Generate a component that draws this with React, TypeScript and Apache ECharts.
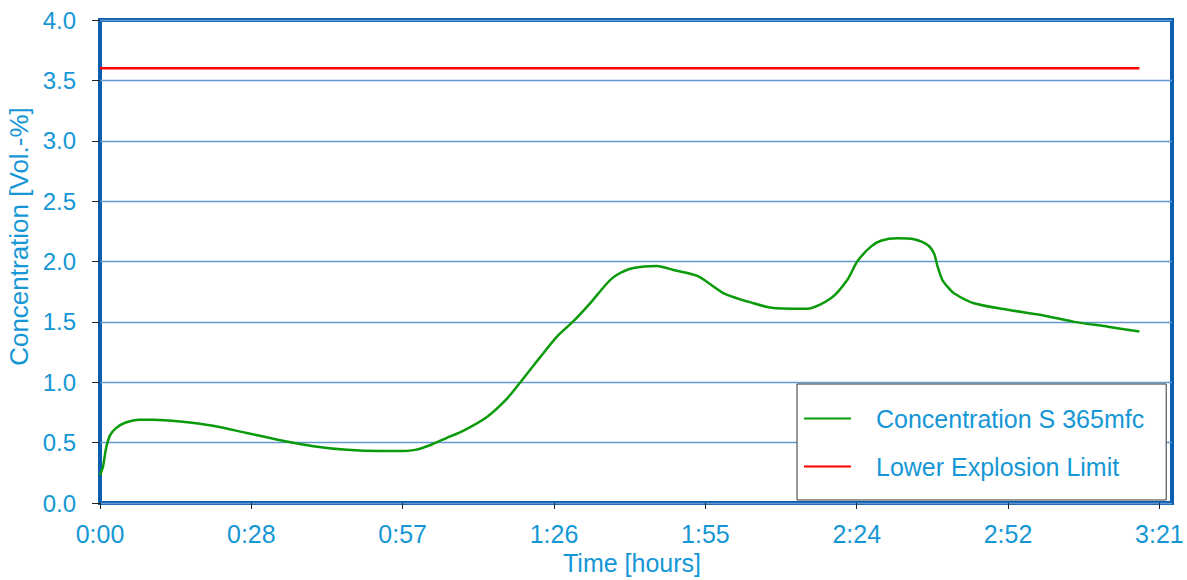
import React, { useEffect, useRef } from "react";
import * as echarts from "echarts";

// Time in minutes since start
const timeMinutes = [
  0, 0.57, 1.14, 1.9, 3.05, 4.76, 7.62, 10.1, 15.24, 21.5, 27.9, 34.3, 40.6, 47.0,
  53.3, 56.5, 60.0, 62.9, 66.0, 69.2, 73.7, 77.5, 80.0, 83.8, 87.0, 90.2, 93.3,
  96.5, 98.4, 101.5, 106.0, 109.1, 113.7, 118.7, 124.4, 128.2, 134.6, 139.1, 142.2,
  144.1, 146.7, 148.6, 151.8, 154.9, 157.5, 158.7, 159.4, 160.3, 161.3, 162.5,
  166.3, 172.7, 179.1, 185.4, 191.8, 197.8,
];
// Concentration S 365mfc [Vol.-%]
const concentration = [
  0.23, 0.3, 0.45, 0.56, 0.62, 0.665, 0.69, 0.69, 0.675, 0.64, 0.58, 0.52, 0.47, 0.44,
  0.43, 0.43, 0.44, 0.48, 0.54, 0.6, 0.715, 0.867, 1.0, 1.21, 1.38, 1.51, 1.655,
  1.82, 1.89, 1.946, 1.963, 1.93, 1.88, 1.737, 1.654, 1.615, 1.609, 1.695, 1.847,
  2.0, 2.123, 2.172, 2.192, 2.184, 2.137, 2.068, 1.957, 1.847, 1.79, 1.737,
  1.654, 1.6, 1.557, 1.5, 1.46, 1.42,
];
// Lower Explosion Limit
const lelTimes = [0, 197.8];
const lelValues = [3.6, 3.6];

const xTickLabels = ["0:00", "0:28", "0:57", "1:26", "1:55", "2:24", "2:52", "3:21"];
const xTickStep = 28.8;
const xMax = 204;

const TEXT = "#1597d6";
const FRAME = "#0b5fae";

export default function App() {
  const ref = useRef<HTMLDivElement>(null);
  useEffect(() => {
    document.body.style.margin = "0";
    const chart = echarts.init(ref.current!, null, { renderer: "svg", width: 1187, height: 580 });
    const font = "'Liberation Sans', Arial, sans-serif";
    chart.setOption({
      animation: false,
      textStyle: { fontFamily: font },
      grid: {
        left: 100,
        right: 15,
        top: 20,
        bottom: 77,
        containLabel: false,
        outerBoundsMode: "none",
        show: true,
        borderColor: FRAME,
        borderWidth: 4,
        backgroundColor: "transparent",
      },
      legend: {
        orient: "vertical",
        left: 797,
        top: 384,
        padding: [22, 22, 21, 7],
        backgroundColor: "#ffffff",
        borderColor: "#333333",
        borderWidth: 1,
        borderRadius: 0,
        itemWidth: 47,
        itemHeight: 14,
        itemGap: 23,
        icon: "path://M0,6 L47,6 L47,8 L0,8 Z",
        textStyle: {
          color: TEXT,
          fontSize: 25,
          fontFamily: font,
          lineHeight: 24,
          padding: [0, 0, 0, 20],
        },
        data: ["Concentration S 365mfc", "Lower Explosion Limit"],
      },
      xAxis: {
        type: "value",
        min: 0,
        max: xMax,
        interval: xTickStep,
        name: "Time [hours]",
        nameLocation: "middle",
        nameGap: 47,
        nameTextStyle: { color: TEXT, fontSize: 25, fontFamily: font, padding: [0, 8, 0, 0] },
        axisLine: { show: false },
        axisTick: { show: true, length: 6, lineStyle: { color: "#222", width: 1 } },
        axisLabel: {
          color: TEXT,
          fontSize: 25,
          fontFamily: font,
          margin: 18,
          showMaxLabel: false,
          formatter: (v: number) => {
            const k = v / xTickStep;
            const r = Math.round(k);
            if (Math.abs(k - r) > 0.01) return "";
            return xTickLabels[r] ?? "";
          },
        },
        splitLine: { show: false },
      },
      yAxis: {
        type: "value",
        min: 0,
        max: 4,
        interval: 0.5,
        name: "Concentration [Vol.-%]",
        nameLocation: "middle",
        nameGap: 67,
        nameTextStyle: { color: TEXT, fontSize: 26, fontFamily: font, padding: [0, 0, 0, 50] },
        axisLine: { show: false },
        axisTick: { show: true, length: 8, lineStyle: { color: "#222", width: 1 } },
        axisLabel: {
          color: TEXT,
          fontSize: 24,
          fontFamily: font,
          margin: 24,
          formatter: (v: number) => v.toFixed(1),
        },
        splitLine: { show: true, lineStyle: { color: "#6399d2", width: 1.3 } },
      },
      series: [
        {
          name: "Concentration S 365mfc",
          type: "line",
          data: timeMinutes.map((t, i) => [t, concentration[i]]),
          showSymbol: false,
          smooth: 0.25,
          lineStyle: { color: "#0a9a0a", width: 2.5 },
          itemStyle: { color: "#0a9a0a" },
          z: 3,
        },
        {
          name: "Lower Explosion Limit",
          type: "line",
          data: lelTimes.map((t, i) => [t, lelValues[i]]),
          showSymbol: false,
          lineStyle: { color: "#ff0000", width: 2.5 },
          itemStyle: { color: "#ff0000" },
          z: 3,
        },
      ],
    });
    return () => chart.dispose();
  }, []);
  return (
    <div
      ref={ref}
      style={{ position: "fixed", left: 0, top: 0, width: 1187, height: 580, background: "#fff" }}
    />
  );
}
